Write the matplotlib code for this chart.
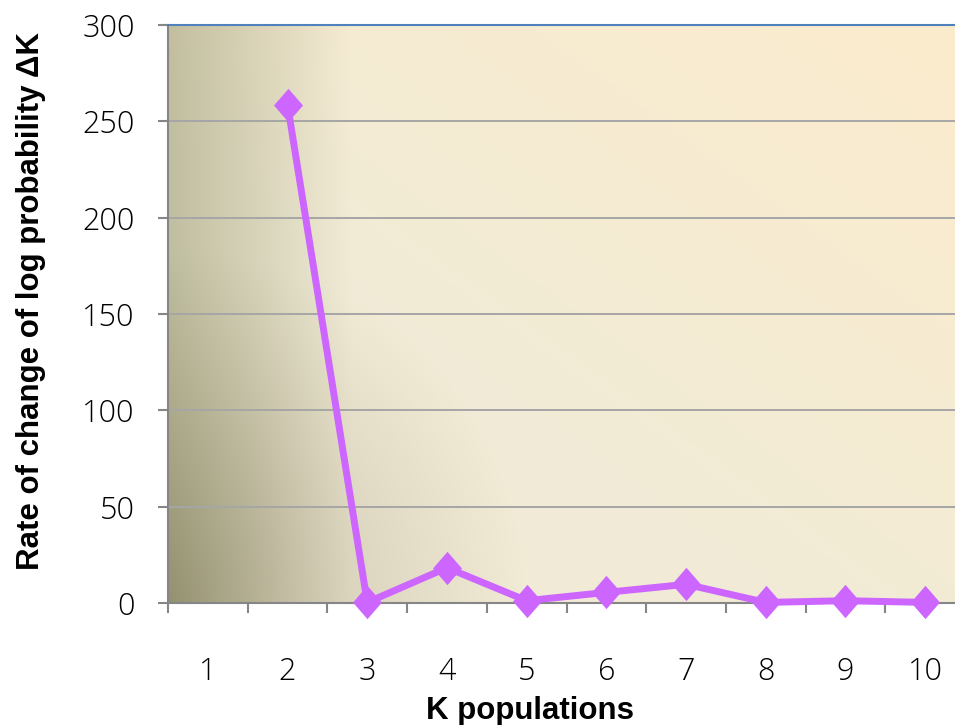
import numpy as np
import matplotlib
matplotlib.use("Agg")
import matplotlib.pyplot as plt
from matplotlib.ticker import FixedLocator

# Delta K for each number of populations (K=1 has no value)
k_pop = [1, 2, 3, 4, 5, 6, 7, 8, 9, 10]
delta_k = [np.nan, 258.6, 0.3, 18.3, 1.2, 5.5, 9.7, 0.3, 1.2, 0.3]
y_ticks = [0, 50, 100, 150, 200, 250, 300]

W, H = 955, 725
fig = plt.figure(figsize=(W / 100, H / 100), dpi=100)

# plot area in pixels: left 168, right 965 (runs past the edge), top 25, bottom 603
left, right, top, bottom = 168, 965, 25, 603
ax = fig.add_axes([left / W, (H - bottom) / H, (right - left) / W, (bottom - top) / H])

## Gradient fill: dark olive in the lower-left corner, cream in the middle, peach top-right
aw, ah = right - left, bottom - top
xx, yy = np.meshgrid(np.arange(aw), np.arange(ah))
u = xx / aw
v = 1 - yy / ah
r = np.hypot(xx, ah - yy)

cream = np.array([241, 235, 214]) / 255
peach = np.array([252, 236, 205]) / 255
d1 = np.array([49, 45, 54]) / 255
d2 = np.array([44, 45, 48]) / 255

t1 = np.clip(u / 0.23, 0, 1)
t2 = np.clip(r / 355, 0, 1)
s = np.clip((u + v - 0.8) / 1.2, 0, 1)

img = cream[None, None, :] + s[..., None] * (peach - cream)[None, None, :]
img = img - (1 - t1)[..., None] * d1 - (1 - t2)[..., None] * d2
img = np.clip(img, 0, 1)

ax.imshow(img, extent=[0, 1, 0, 1], transform=ax.transAxes, aspect="auto",
          zorder=0, interpolation="bilinear")

## Data
ax.plot(k_pop, delta_k, color="#CC66FF", lw=5, solid_joinstyle="round",
        marker=[(-1, 0), (0, 1.15), (1, 0), (0, -1.15)], markersize=24,
        markeredgewidth=0, zorder=5, clip_on=False)

ax.set_xlim(0.5, 10.5)
ax.set_ylim(0, 300)

# gridlines
for y in y_ticks[1:-1]:
    ax.axhline(y, color="#A6A6A6", lw=1.4, zorder=2)

ax.spines["right"].set_visible(False)
ax.spines["top"].set_color("#4F81BD")
ax.spines["top"].set_linewidth(1.5)
ax.spines["left"].set_color("#868686")
ax.spines["bottom"].set_color("#868686")
ax.spines["left"].set_linewidth(1.5)
ax.spines["bottom"].set_linewidth(1.5)
for sp in ax.spines.values():
    sp.set_zorder(3)

tick_font = dict(family=["Open Sans", "DejaVu Sans"], weight="light", size=22, color="black")

ax.set_yticks(y_ticks)
ax.set_yticklabels([str(t) for t in y_ticks], **tick_font)
ax.tick_params(axis="y", direction="out", length=7, width=1.5, color="#868686", pad=17)

ax.set_xticks(k_pop)
ax.set_xticklabels([str(k) for k in k_pop], **tick_font)
ax.xaxis.set_minor_locator(FixedLocator(np.arange(0.5, 11, 1)))
ax.tick_params(axis="x", which="major", length=0, pad=38)
ax.tick_params(axis="x", which="minor", direction="out", length=7, width=1.5, color="#868686")

fig.text(530 / W, 1 - 711 / H, "K populations", ha="center", va="center",
         family="Liberation Sans", weight="bold", size=22.5)
fig.text(31 / W, 1 - 301 / H, "Rate of change of log probability ΔK", ha="center", va="center",
         rotation=90, family="Liberation Sans", weight="bold", size=22.5)

fig.savefig("out.png", dpi=100)
